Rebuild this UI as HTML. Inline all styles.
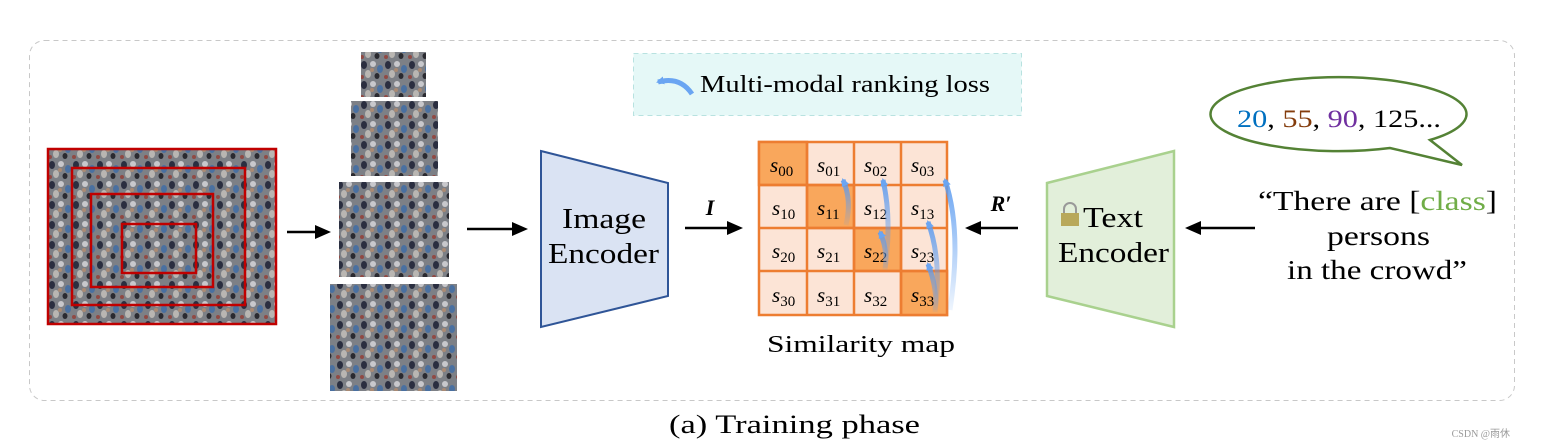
<!DOCTYPE html>
<html><head><style>
html,body{margin:0;padding:0;background:#fff;}
svg{display:block;}
text{font-family:"Liberation Serif",serif;}
</style></head><body>
<svg width="1554" height="448" viewBox="0 0 1554 448" xmlns="http://www.w3.org/2000/svg">
<defs>
<pattern id="crowd" width="24" height="20" patternUnits="userSpaceOnUse">
<rect width="24" height="20" fill="#7d8086"/>
<ellipse cx="4" cy="5" rx="3" ry="4" fill="#2a2e40"/>
<ellipse cx="13" cy="4" rx="3" ry="3" fill="#c8c8cc"/>
<ellipse cx="20" cy="9" rx="3" ry="4" fill="#4a70a0"/>
<ellipse cx="8" cy="14" rx="3" ry="4" fill="#b9b6b2"/>
<ellipse cx="17" cy="16" rx="2.5" ry="3" fill="#2a2a30"/>
<ellipse cx="2" cy="17" rx="2" ry="2" fill="#904a44"/>
<ellipse cx="12" cy="10" rx="2" ry="2" fill="#a98a74"/>
</pattern>
<linearGradient id="ag" x1="0" y1="1" x2="0" y2="0"><stop offset="0" stop-color="#5b9bf0" stop-opacity="0.1"/><stop offset="1" stop-color="#5b9bf0" stop-opacity="0.9"/></linearGradient>
<marker id="ah" markerWidth="8" markerHeight="8" refX="6" refY="4" orient="auto" markerUnits="userSpaceOnUse"><path d="M0,0 L8,4 L0,8 Z" fill="#6aa5f2"/></marker>
</defs>
<rect x="29.5" y="40.5" width="1485" height="360" rx="15" fill="#fff" stroke="#c8c8c8" stroke-dasharray="5,4"/>

<rect x="47" y="148" width="230" height="177" fill="url(#crowd)"/>
<rect x="48" y="149" width="228" height="175" fill="none" stroke="#c00000" stroke-width="2.5"/>
<rect x="72" y="168" width="173" height="137" fill="none" stroke="#c00000" stroke-width="2.5"/>
<rect x="91" y="194" width="122" height="93" fill="none" stroke="#c00000" stroke-width="2.5"/>
<rect x="122" y="224" width="74" height="49" fill="none" stroke="#c00000" stroke-width="2.5"/>
<line x1="287" y1="232" x2="318" y2="232" stroke="#000" stroke-width="2.5"/><path d="M331,232 L315,225 L315,239 Z"/>

<rect x="361" y="52" width="65" height="45" fill="url(#crowd)"/>
<rect x="351" y="101" width="87" height="75" fill="url(#crowd)"/>
<rect x="339" y="182" width="110" height="95" fill="url(#crowd)"/>
<rect x="330" y="284" width="127" height="107" fill="url(#crowd)"/>

<line x1="467" y1="229" x2="515" y2="229" stroke="#000" stroke-width="2.5"/><path d="M528,229 L512,222 L512,236 Z"/>

<polygon points="541,151 668,183 668,296 541,327" fill="#dae3f3" stroke="#2f5597" stroke-width="2"/>
<text x="562" y="228" font-size="28" textLength="84" lengthAdjust="spacingAndGlyphs">Image</text>
<text x="548" y="263" font-size="28" textLength="111" lengthAdjust="spacingAndGlyphs">Encoder</text>

<line x1="685" y1="228" x2="730" y2="228" stroke="#000" stroke-width="2.5"/><path d="M743,228 L727,221 L727,235 Z"/>
<text x="710" y="215" font-size="22" font-weight="bold" font-style="italic" text-anchor="middle">I</text>

<g stroke="#ed7d31" stroke-width="2.5">
<rect x="759" y="142" width="188" height="173" fill="#fce4d6"/>
<rect x="759" y="142" width="48" height="43" fill="#f9a75c"/>
<rect x="807" y="185" width="47" height="43" fill="#f9a75c"/>
<rect x="854" y="228" width="47" height="43" fill="#f9a75c"/>
<rect x="901" y="271" width="46" height="44" fill="#f9a75c"/>
<line x1="807" y1="142" x2="807" y2="315"/><line x1="854" y1="142" x2="854" y2="315"/><line x1="901" y1="142" x2="901" y2="315"/>
<line x1="759" y1="185" x2="947" y2="185"/><line x1="759" y1="228" x2="947" y2="228"/><line x1="759" y1="271" x2="947" y2="271"/>
</g>
<g font-size="21" font-style="italic">
<text x="770" y="172">s<tspan font-size="15" font-style="normal" dy="4">00</tspan></text>
<text x="817" y="172">s<tspan font-size="15" font-style="normal" dy="4">01</tspan></text>
<text x="864" y="172">s<tspan font-size="15" font-style="normal" dy="4">02</tspan></text>
<text x="911" y="172">s<tspan font-size="15" font-style="normal" dy="4">03</tspan></text>
<text x="772" y="215">s<tspan font-size="15" font-style="normal" dy="4">10</tspan></text>
<text x="817" y="215">s<tspan font-size="15" font-style="normal" dy="4">11</tspan></text>
<text x="864" y="215">s<tspan font-size="15" font-style="normal" dy="4">12</tspan></text>
<text x="911" y="215">s<tspan font-size="15" font-style="normal" dy="4">13</tspan></text>
<text x="772" y="258">s<tspan font-size="15" font-style="normal" dy="4">20</tspan></text>
<text x="817" y="258">s<tspan font-size="15" font-style="normal" dy="4">21</tspan></text>
<text x="864" y="258">s<tspan font-size="15" font-style="normal" dy="4">22</tspan></text>
<text x="911" y="258">s<tspan font-size="15" font-style="normal" dy="4">23</tspan></text>
<text x="772" y="302">s<tspan font-size="15" font-style="normal" dy="4">30</tspan></text>
<text x="817" y="302">s<tspan font-size="15" font-style="normal" dy="4">31</tspan></text>
<text x="864" y="302">s<tspan font-size="15" font-style="normal" dy="4">32</tspan></text>
<text x="911" y="302">s<tspan font-size="15" font-style="normal" dy="4">33</tspan></text>
</g>
<g fill="none" stroke="url(#ag)" stroke-width="5" marker-end="url(#ah)">
<path d="M846,225 Q852,200 843,180"/>
<path d="M885,268 Q892,220 883,180"/>
<path d="M885,270 Q888,250 880,232"/>
<path d="M935,310 Q938,290 928,264"/>
<path d="M935,312 Q942,260 928,222"/>
<path d="M950,310 Q962,230 945,180"/>
</g>
<text x="767" y="352" font-size="24" textLength="188" lengthAdjust="spacingAndGlyphs">Similarity map</text>

<rect x="633.5" y="53.5" width="388" height="62" fill="#e5f8f7" stroke="#b8e2e0" stroke-dasharray="5,4"/>
<path d="M692,94 Q680,76 658,82" fill="none" stroke="#6aa5f2" stroke-width="5" marker-end="url(#ah)"/>
<text x="700" y="92" font-size="24" textLength="290" lengthAdjust="spacingAndGlyphs">Multi-modal ranking loss</text>

<line x1="1018" y1="228" x2="978" y2="228" stroke="#000" stroke-width="2.5"/><path d="M965,228 L981,221 L981,235 Z"/>
<text x="1001" y="211" font-size="22" font-weight="bold" font-style="italic" text-anchor="middle">R′</text>

<polygon points="1047,183 1174,151 1174,327 1047,296" fill="#e2efda" stroke="#a9d18e" stroke-width="2.5"/>
<rect x="1061" y="213" width="18" height="13" fill="#b8a85a"/>
<path d="M1064,213 v-4 a6,6 0 0 1 12,0 v4" fill="none" stroke="#999" stroke-width="2"/>
<text x="1083" y="227" font-size="28" textLength="60" lengthAdjust="spacingAndGlyphs">Text</text>
<text x="1058" y="262" font-size="28" textLength="111" lengthAdjust="spacingAndGlyphs">Encoder</text>

<line x1="1255" y1="228" x2="1198" y2="228" stroke="#000" stroke-width="2.5"/><path d="M1185,228 L1201,221 L1201,235 Z"/>

<g font-size="27">
<text x="1258" y="210" textLength="239" lengthAdjust="spacingAndGlyphs">“There are [<tspan fill="#70ad47">class</tspan>]</text>
<text x="1327" y="245" textLength="103" lengthAdjust="spacingAndGlyphs">persons</text>
<text x="1287" y="279" textLength="180" lengthAdjust="spacingAndGlyphs">in the crowd”</text>
</g>

<path d="M1430,140 L1462,165 L1390,148 A128,37 0 1 1 1430,140 Z" fill="#fff" stroke="#548235" stroke-width="2.5"/>
<text x="1237" y="127" font-size="25" textLength="204" lengthAdjust="spacingAndGlyphs"><tspan fill="#0070c0">20</tspan>, <tspan fill="#843c0c">55</tspan>, <tspan fill="#7030a0">90</tspan>, 125...</text>

<text x="669" y="433" font-size="26" textLength="251" lengthAdjust="spacingAndGlyphs">(a) Training phase</text>
<text x="1510" y="437" font-size="10" fill="#999" font-family="Liberation Sans, Noto Sans CJK SC, sans-serif" text-anchor="end">CSDN @雨休</text>
</svg>
</body></html>
